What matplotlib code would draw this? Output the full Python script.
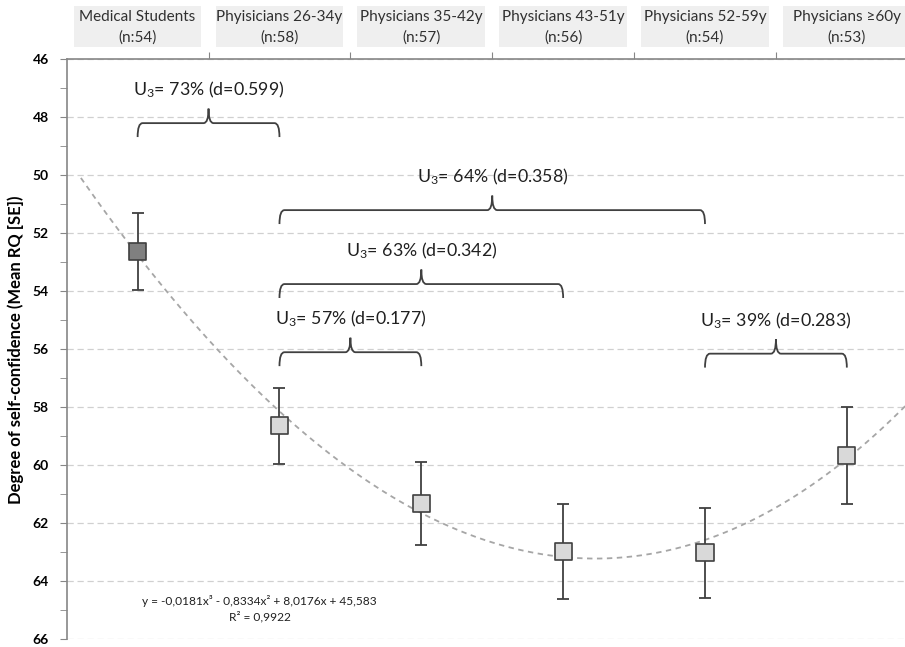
import numpy as np
import matplotlib
matplotlib.use("Agg")
import matplotlib.pyplot as plt
from matplotlib.path import Path
from matplotlib.patches import PathPatch, Rectangle
import matplotlib.transforms as mtransforms

plt.rcParams["font.family"] = ["Lato", "DejaVu Sans"]
plt.rcParams["mathtext.fontset"] = "custom"
plt.rcParams["mathtext.rm"] = "Lato"

# ── data ──────────────────────────────────────────────────────
groups = ["Medical Students", "Phyisicians 26-34y", "Physicians 35-42y",
          "Physicians 43-51y", "Physicians 52-59y", "Physicians \u226560y"]
group_n = [54, 58, 57, 56, 54, 53]
mean_rq = [52.63, 58.64, 61.33, 62.98, 63.02, 59.66]
se_rq = [1.34, 1.30, 1.43, 1.64, 1.54, 1.66]

# cubic trendline as printed on the chart
trend_coef = [-0.0181, -0.8334, 8.0176, 45.583]
trend_label = "y = -0,0181x\u00b3 - 0,8334x\u00b2 + 8,0176x + 45,583\nR\u00b2 = 0,9922"

# effect size brackets: (from group, to group, bracket level, label)
brackets = [
    (1, 2, 48.2, "73%", "0.599"),
    (2, 5, 51.2, "64%", "0.358"),
    (2, 4, 53.75, "63%", "0.342"),
    (2, 3, 56.1, "57%", "0.177"),
    (5, 6, 56.15, "39%", "0.283"),
]

DARK = "#404040"

fig = plt.figure(figsize=(9.05, 6.47), dpi=100)
ax = fig.add_axes([0.0737, 0.0119, 0.9263, 0.8964])

x = np.arange(1, len(groups) + 1)

# trendline
xt = np.linspace(0.6, 6.45, 300)
ax.plot(xt, np.polyval(trend_coef, xt), color="#a6a6a6", lw=1.3,
        dashes=(3, 2.5), zorder=2)

# error bars + markers
ax.errorbar(x, mean_rq, yerr=se_rq, fmt="none", ecolor=DARK, elinewidth=1.3,
            capsize=4.5, capthick=1.3, zorder=3)
face = ["#808080"] + ["#d9d9d9"] * (len(groups) - 1)
ax.scatter(x, mean_rq, marker="s", s=150, c=face, edgecolors=DARK,
           linewidths=1.2, zorder=4)

# curly brackets
r = 0.035
for g0, g1, lvl, u3, d in brackets:
    xm = (g0 + g1) / 2
    verts = [(g0, lvl + 0.48), (g0, lvl), (g0 + r, lvl),
             (xm - r, lvl), (xm, lvl), (xm, lvl - 0.5),
             (xm, lvl), (xm + r, lvl),
             (g1 - r, lvl), (g1, lvl), (g1, lvl + 0.48)]
    codes = [Path.MOVETO, Path.CURVE3, Path.CURVE3,
             Path.LINETO, Path.CURVE3, Path.CURVE3,
             Path.CURVE3, Path.CURVE3,
             Path.LINETO, Path.CURVE3, Path.CURVE3]
    ax.add_patch(PathPatch(Path(verts, codes), fill=False, edgecolor=DARK,
                           lw=1.3, zorder=3))
    ax.text(xm, lvl - 1.15, r"$\mathregular{U_3}$= " + f"{u3} (d={d})",
            ha="center", va="center", fontsize=12.8, color="#202020")

ax.text(1.86, 64.95, trend_label, ha="center", va="center", fontsize=8.6,
        linespacing=1.4, color="#202020")

# axes styling
ax.set_xlim(0.5, 6.41)
ax.set_ylim(66, 46)
ax.set_yticks(np.arange(46, 67, 2))
ax.set_yticks(np.arange(47, 66, 2), minor=True)
ax.yaxis.grid(True, which="major", color="#d0d0d0", linestyle=(0, (5, 3)), lw=0.9)
ax.set_axisbelow(True)
ax.tick_params(axis="y", which="both", direction="out", length=5,
               color="#868686", labelsize=10, pad=8)
for lbl in ax.get_yticklabels():
    lbl.set_fontweight("bold")
ax.set_ylabel("Degree of self-confidence (Mean RQ [SE])", fontsize=12,
              fontweight="bold", labelpad=6)

ax.xaxis.tick_top()
ax.set_xticks(np.arange(1.5, 6.5, 1))
ax.set_xticklabels([])
ax.tick_params(axis="x", direction="out", length=5, color="#868686")
for side in ["bottom", "right"]:
    ax.spines[side].set_visible(False)
for side in ["left", "top"]:
    ax.spines[side].set_color("#868686")
    ax.spines[side].set_linewidth(1.2)

# category header boxes
trans = mtransforms.blended_transform_factory(ax.transData, ax.transAxes)
for xi, name, n in zip(x, groups, group_n):
    ax.add_patch(Rectangle((xi - 0.45, 1.0207), 0.9, 0.0707, transform=trans,
                           facecolor="#efefef", edgecolor="none", clip_on=False))
    ax.text(xi, 1.055, f"{name}\n(n:{n})", transform=trans, ha="center",
            va="center", fontsize=11, linespacing=1.5, color="#303030")

fig.savefig("out.png", dpi=100)
